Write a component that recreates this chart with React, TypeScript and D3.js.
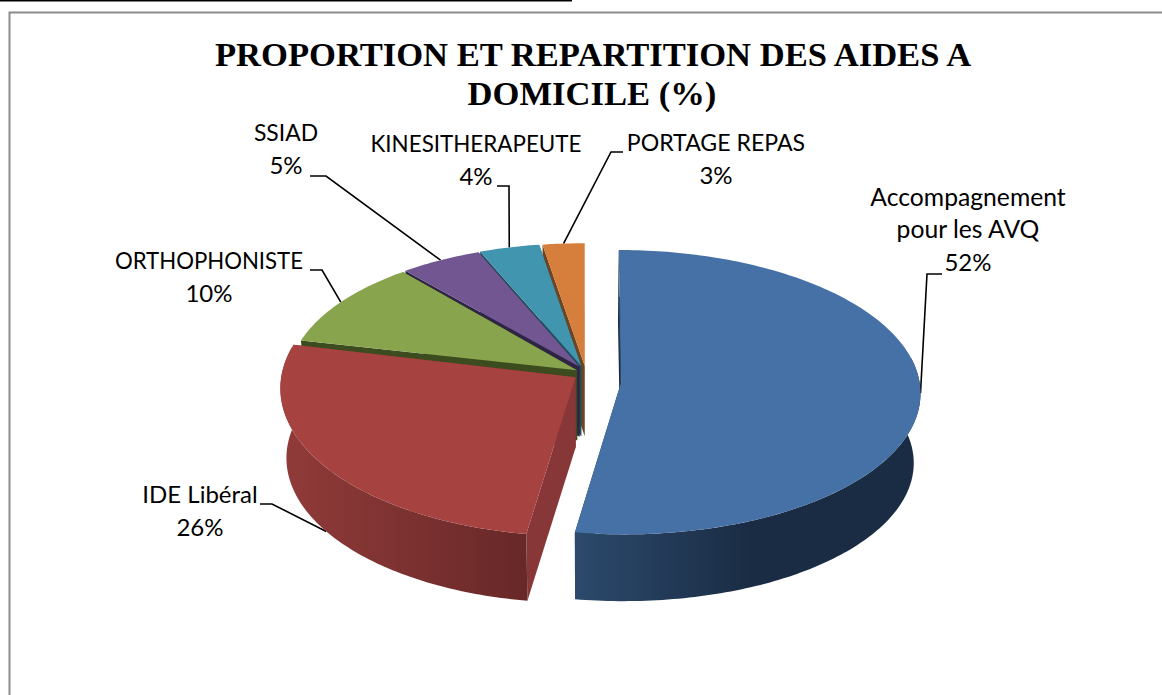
import React from "react";
import * as d3 from "d3";

// ---- data ----
const categories = ["Accompagnement pour les AVQ", "IDE Libéral", "ORTHOPHONISTE", "SSIAD", "KINESITHERAPEUTE", "PORTAGE REPAS"];
const shares = [52.45, 26.15, 10.4, 4.9, 3.6, 2.5];
const titleLines = ["PROPORTION ET REPARTITION DES AIDES A", "DOMICILE (%)"];

// ---- styling ----
const topColors = ["#4671a7", "#a64341", "#88a44d", "#725691", "#4195ae", "#d67f3c"];
const sideColors = ["#1b2e46", "#873737", "#3c4c1e", "#2e2446", "#1f4f5e", "#6e4520"];
const wallStops = [["#2c4a6c", "#1a2c44"], ["#903b39", "#682828"], ["#3c4c1e", "#3c4c1e"], ["#2e2446", "#2e2446"], ["#1f4f5e", "#1f4f5e"], ["#6e4520", "#6e4520"]];
const wallSpans = [[575, 750], [285, 525], [300, 400], [400, 480], [480, 545], [545, 586]];
// how far each slice is pulled out of the pie, in pie radii (u: right, v: towards viewer)
const pullU = [0.128, -0.025, -0.02, -0.012, -0.006, 0.006];
const pullV = [0.065, 0.03, -0.02, -0.045, -0.05, -0.05];
const radiusU = [1, 0.989, 0.97, 0.97, 0.97, 0.97];
const radiusV = [1, 1.045, 0.96, 0.94, 0.94, 0.94];
// label layout
const labelLines = [["Accompagnement", "pour les AVQ"], ["IDE Libéral"], ["ORTHOPHONISTE"], ["SSIAD"], ["KINESITHERAPEUTE"], ["PORTAGE REPAS"]];
const labelX = [968, 200, 209, 286, 476, 716];
const labelY = [206, 503, 269, 141, 152, 151];
const labelSize = [24.7, 24, 22.2, 22.9, 22.4, 23.1];
const elbowA = [[927, 274], [272, 504], [322, 270], [326, 176], [509, 186], [611, 152]];
const elbowB = [[942, 274], [260, 504], [310, 270], [310, 176], [497, 186], [623, 152]];
const anchorOnBase = [false, true, false, false, false, false];

// ---- projection ----
const cx = 583, cy = 373, R = 297, K = 140.2, P = 0.0702;
const baseScale = 0.98, baseDrop = 70;
const yScale = d3.scaleLinear().domain([0, 1]).range([0, K]);
const xScale = d3.scaleLinear().domain([0, 1]).range([0, R]);
type Pt = [number, number];
const project = (u: number, v: number): Pt => {
  const s = 1 / (1 - P * v);
  return [cx + xScale(u) * s, cy + yScale(v) * s];
};
const toBase = ([x, y]: Pt): Pt => [cx + (x - cx) * baseScale, cy + baseDrop + (y - cy) * baseScale];

const pieGen = d3.pie<number>().sort(null).value((d) => d).startAngle(0).endAngle(2 * Math.PI);
const arcs = pieGen(shares);
const line = d3.line<Pt>().x((d) => d[0]).y((d) => d[1]);

const rimPoint = (i: number, a: number): Pt => project(pullU[i] + radiusU[i] * Math.sin(a), pullV[i] - radiusV[i] * Math.cos(a));
const apex = (i: number): Pt => project(pullU[i], pullV[i]);
const rim = (i: number, a0: number, a1: number): Pt[] => {
  const n = Math.max(2, Math.ceil(((a1 - a0) * 180) / Math.PI));
  return d3.range(n + 1).map((k) => rimPoint(i, a0 + ((a1 - a0) * k) / n));
};
const closed = (pts: Pt[]) => (line(pts) as string) + "Z";

const FRONT0 = (80 * Math.PI) / 180, FRONT1 = (282 * Math.PI) / 180;

export default function App() {
  const order = d3.range(shares.length).filter((i) => i !== 1 && i !== 0).reverse().concat([1, 0]);
  return (
    <svg width={1162} height={695} viewBox="0 0 1162 695" style={{ position: "absolute", left: 0, top: 0, background: "#fff" }}>
      <defs>
        {wallStops.map((st, i) => (
          <linearGradient key={i} id={`wall${i}`} gradientUnits="userSpaceOnUse" x1={wallSpans[i][0]} x2={wallSpans[i][1]} y1={0} y2={0}>
            <stop offset="0" stopColor={st[0]} />
            <stop offset="1" stopColor={st[1]} />
          </linearGradient>
        ))}
      </defs>
      <line x1={0} x2={572} y1={0.5} y2={0.5} stroke="#000" strokeWidth={2} />
      <path d="M9.5 695V12.5H1162" fill="none" stroke="#8c8c8c" strokeWidth={2} />
      <text textAnchor="middle" fontFamily="'Liberation Serif'" fontWeight="bold" fontSize={34.6} fill="#000">
        <tspan x={593} y={66}>{titleLines[0]}</tspan>
        <tspan x={592} y={105}>{titleLines[1]}</tspan>
      </text>

      {/* leaders */}
      {categories.map((c, i) => {
        const mid = (arcs[i].startAngle + arcs[i].endAngle) / 2;
        const p = rimPoint(i, mid);
        const a = anchorOnBase[i] ? toBase(p) : p;
        return <path key={c} d={line([a, elbowA[i] as Pt, elbowB[i] as Pt]) as string} fill="none" stroke="#000" strokeWidth={1.6} />;
      })}

      {/* slices, back to front */}
      {order.map((i) => {
        const { startAngle: a0, endAngle: a1 } = arcs[i];
        const A = apex(i), S = rimPoint(i, a0), E = rimPoint(i, a1);
        const w0 = Math.max(a0, FRONT0), w1 = Math.min(a1, FRONT1);
        const wall = w1 > w0 ? rim(i, w0, w1) : null;
        return (
          <g key={i}>
            <path d={closed([A, S, toBase(S), toBase(A)])} fill={sideColors[i]} />
            <path d={closed([A, E, toBase(E), toBase(A)])} fill={sideColors[i]} />
            {wall && <path d={closed([...wall, ...wall.map(toBase).reverse()])} fill={`url(#wall${i})`} />}
            <path d={closed([A, ...rim(i, a0, a1)])} fill={topColors[i]} />
          </g>
        );
      })}
      <path d={line([[apex(0)[0] - 0.5, apex(0)[1]], [rimPoint(0, 0)[0] + 0.8, 297]]) as string} stroke="#2a4a72" strokeWidth={1} fill="none" />

      {/* labels */}
      {categories.map((c, i) => (
        <text key={c} textAnchor="middle" fontFamily="Lato" fontSize={labelSize[i]} fill="#000">
          {labelLines[i].map((t, k) => (
            <tspan key={k} x={labelX[i]} y={labelY[i] + k * 32}>{t}</tspan>
          ))}
          <tspan x={labelX[i]} y={labelY[i] + labelLines[i].length * 32.5} fontSize={24}>{`${Math.round(shares[i])}%`}</tspan>
        </text>
      ))}
    </svg>
  );
}
